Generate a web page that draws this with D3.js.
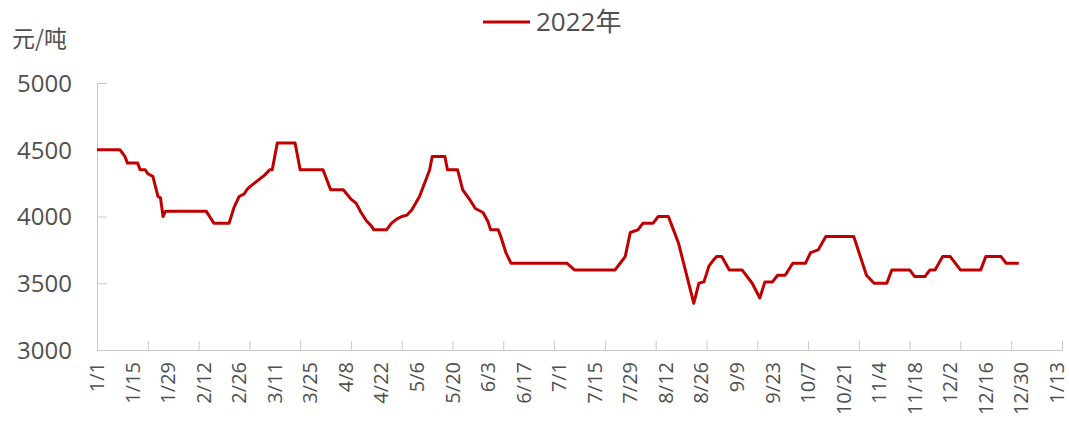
<!DOCTYPE html>
<html>
<head>
<meta charset="utf-8">
<script src="https://cdn.jsdelivr.net/npm/d3@7"></script>
<style>
  html, body { margin: 0; padding: 0; background: #fff; }
  svg { display: block; }
  text { font-family: "Open Sans", "Noto Sans CJK SC", sans-serif; fill: #505050; }
</style>
</head>
<body>
<svg id="chart" width="1069" height="439"></svg>
<script>
// ---- data (day offset from 2022-01-01, price in 元/吨) ----
const days = [0, 9, 11, 12, 16, 17, 19, 20, 22, 24, 25, 26, 27, 43, 46, 52, 54, 56, 58, 59, 60, 62, 64, 66, 68, 69, 71, 78, 80, 89, 92, 97, 100, 102, 104, 106, 108, 109, 114, 116, 118, 120, 122, 124, 127, 130, 131, 132, 137, 138, 142, 144, 147, 149, 152, 154, 155, 158, 159, 161, 163, 185, 188, 204, 206, 208, 210, 213, 215, 219, 221, 225, 227, 229, 231, 235, 237, 239, 241, 243, 244, 246, 249, 254, 258, 261, 263, 266, 268, 271, 274, 279, 281, 284, 287, 298, 303, 306, 311, 313, 320, 322, 326, 328, 330, 333, 336, 340, 348, 350, 356, 358, 363];
const prices = [4500, 4500, 4450, 4400, 4400, 4350, 4350, 4320, 4300, 4150, 4140, 4000, 4040, 4040, 3950, 3950, 4070, 4150, 4170, 4200, 4220, 4250, 4280, 4310, 4350, 4350, 4550, 4550, 4350, 4350, 4200, 4200, 4130, 4100, 4030, 3970, 3930, 3900, 3900, 3950, 3980, 4000, 4010, 4050, 4150, 4300, 4350, 4450, 4450, 4350, 4350, 4200, 4120, 4060, 4030, 3960, 3900, 3900, 3850, 3730, 3650, 3650, 3600, 3600, 3650, 3700, 3880, 3900, 3950, 3950, 4000, 4000, 3900, 3800, 3650, 3350, 3500, 3510, 3630, 3680, 3700, 3700, 3600, 3600, 3500, 3390, 3510, 3510, 3560, 3560, 3650, 3650, 3730, 3750, 3850, 3850, 3560, 3500, 3500, 3600, 3600, 3550, 3550, 3600, 3600, 3700, 3700, 3600, 3600, 3700, 3700, 3650, 3650];
const xLabels = ["1/1", "1/15", "1/29", "2/12", "2/26", "3/11", "3/25", "4/8", "4/22", "5/6", "5/20", "6/3", "6/17", "7/1", "7/15", "7/29", "8/12", "8/26", "9/9", "9/23", "10/7", "10/21", "11/4", "11/18", "12/2", "12/16", "12/30", "1/13"];
const yTicks = [3000, 3500, 4000, 4500, 5000];
const seriesName = "2022年";
const unitLabel = "元/吨";

// ---- layout ----
const svg = d3.select("#chart");
const mLeft = 97, mRight = 1062, mTop = 83, mBottom = 350;
const x = d3.scaleLinear().domain([0, 380]).range([mLeft, mRight]);
const y = d3.scaleLinear().domain([3000, 5000]).range([mBottom, mTop]);
const axisColor = "#c8c8c8";
const lineColor = "#c00000";

// y axis
const yAxis = svg.append("g").attr("transform", `translate(${mLeft},0)`)
  .call(d3.axisLeft(y).tickValues(yTicks).tickSize(-10).tickPadding(0).tickFormat(d3.format("d")));
yAxis.select(".domain").attr("stroke", axisColor);
yAxis.selectAll(".tick line").attr("stroke", axisColor);
yAxis.selectAll(".tick text").attr("x", -25).attr("dy", "0.35em")
  .style("font-size", "24px").style("fill", "#505050");

// x axis: tick marks every 20 days, labels every 14 days
const xAxis = svg.append("g").attr("transform", `translate(0,${mBottom})`)
  .call(d3.axisBottom(x).tickValues(d3.range(0, 381, 20)).tickSize(-9).tickFormat(""));
xAxis.select(".domain").attr("stroke", axisColor);
xAxis.selectAll(".tick line").attr("stroke", axisColor);

svg.append("g").selectAll("text").data(xLabels).join("text")
  .attr("transform", (d, i) => `translate(${x(i * 14) + 7},${mBottom + 12}) rotate(-90)`)
  .attr("text-anchor", "end")
  .style("font-size", "20px")
  .text(d => d);

// line
const pts = days.map((d, i) => [d, prices[i]]);
svg.append("path")
  .datum(pts)
  .attr("fill", "none")
  .attr("stroke", lineColor)
  .attr("stroke-width", 3)
  .attr("stroke-linejoin", "round")
  .attr("d", d3.line().x(d => x(d[0])).y(d => y(d[1])));

// unit label
svg.append("text").attr("x", 12).attr("y", 47)
  .style("font-family", "'Noto Sans CJK SC', sans-serif")
  .style("font-size", "23px").text(unitLabel);

// legend
svg.append("line").attr("x1", 483).attr("x2", 530).attr("y1", 22).attr("y2", 22)
  .attr("stroke", lineColor).attr("stroke-width", 3);
svg.append("text").attr("x", 536).attr("y", 31)
  .style("font-family", "'Open Sans', 'Noto Sans CJK SC', sans-serif")
  .style("font-size", "26px").text(seriesName);
</script>
</body>
</html>
